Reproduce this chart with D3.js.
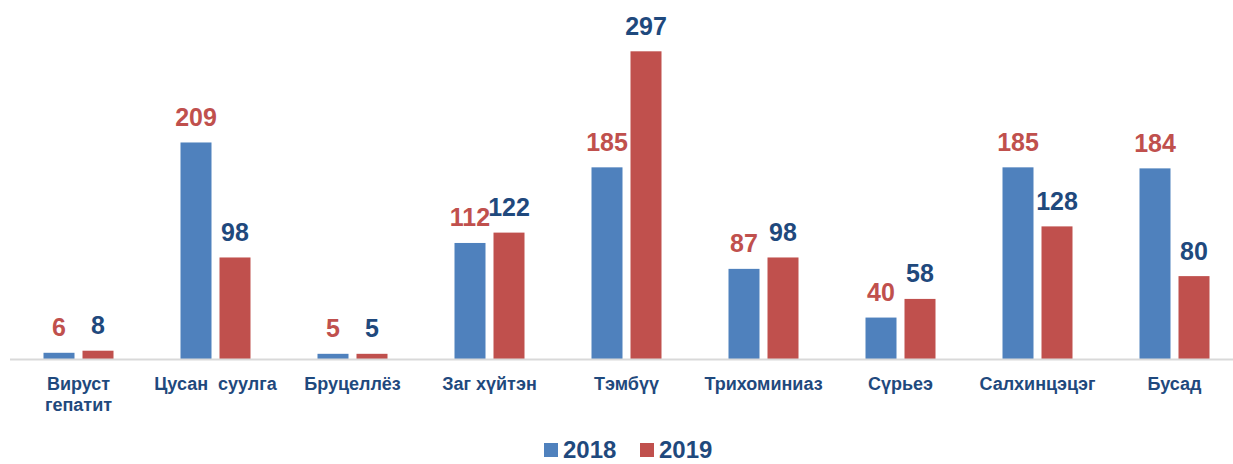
<!DOCTYPE html>
<html>
<head>
<meta charset="utf-8">
<script src="https://cdn.jsdelivr.net/npm/d3@7/dist/d3.min.js"></script>
<style>
  html, body { margin: 0; padding: 0; background: #ffffff; }
  svg { display: block; }
  text { font-family: "Liberation Sans", Arial, sans-serif; font-weight: bold; }
</style>
</head>
<body>
<svg id="chart" width="1233" height="464"></svg>
<script>
const categories = [
  ["Вируст", "гепатит"],
  ["Цусан  суулга"],
  ["Бруцеллёз"],
  ["Заг хүйтэн"],
  ["Тэмбүү"],
  ["Трихоминиаз"],
  ["Сүрьеэ"],
  ["Салхинцэцэг"],
  ["Бусад"]
];
const seriesNames = ["2018", "2019"];
const values2018 = [6, 209, 5, 112, 185, 87, 40, 185, 184];
const values2019 = [8, 98, 5, 122, 297, 98, 58, 128, 80];
const barColors = { "2018": "#4f81bd", "2019": "#c0504d" };
const labelColors = { "2018": "#c0504d", "2019": "#1f497d" };
const textColor = "#1f497d";

const svg = d3.select("#chart");
const catKeys = categories.map(c => c.join(" "));
const data = catKeys.map((k, i) => ({ key: k, lines: categories[i], "2018": values2018[i], "2019": values2019[i] }));

const x0 = d3.scaleBand().domain(catKeys).range([10, 1243]).paddingInner(0).paddingOuter(0);
const x1 = d3.scaleBand().domain(seriesNames).range([33.5, 103.5]).paddingInner(8 / 39).paddingOuter(0);
const y = d3.scaleLinear().domain([0, 300]).range([359, 48.2]);

// bars
const groups = svg.append("g").selectAll("g").data(data).join("g")
  .attr("transform", d => `translate(${x0(d.key)},0)`);

groups.selectAll("rect").data(d => seriesNames.map(s => ({ s, v: d[s] }))).join("rect")
  .attr("x", d => x1(d.s))
  .attr("width", x1.bandwidth())
  .attr("y", d => y(d.v))
  .attr("height", d => y(0) - y(d.v))
  .attr("fill", d => barColors[d.s]);

groups.selectAll("text.val").data(d => seriesNames.map(s => ({ s, v: d[s] }))).join("text")
  .attr("class", "val")
  .attr("x", d => x1(d.s) + x1.bandwidth() / 2)
  .attr("y", d => y(d.v) - 16.5)
  .attr("text-anchor", "middle")
  .attr("font-size", 25)
  .attr("fill", d => labelColors[d.s])
  .text(d => d.v);

// axis line
svg.append("line")
  .attr("x1", 10).attr("x2", 1233)
  .attr("y1", y(0) + 0.5).attr("y2", y(0) + 0.5)
  .attr("stroke", "#d9d9d9").attr("stroke-width", 2);

// category labels
const cat = svg.append("g").selectAll("text").data(data).join("text")
  .attr("x", d => x0(d.key) + x0.bandwidth() / 2)
  .attr("y", 390)
  .attr("text-anchor", "middle")
  .attr("font-size", 18)
  .attr("fill", textColor)
  .style("white-space", "pre");
cat.selectAll("tspan").data(d => d.lines).join("tspan")
  .attr("x", function() { return d3.select(this.parentNode).attr("x"); })
  .attr("dy", (d, i) => i === 0 ? 0 : 20.5)
  .text(d => d);

// legend
const legendX = { "2018": 544, "2019": 640 };
const leg = svg.append("g").selectAll("g").data(seriesNames).join("g")
  .attr("transform", d => `translate(${legendX[d]},0)`);
leg.append("rect").attr("x", 0).attr("y", 443).attr("width", 14).attr("height", 14)
  .attr("fill", d => barColors[d]);
leg.append("text").attr("x", 19).attr("y", 458)
  .attr("font-size", 24).attr("fill", textColor).text(d => d);
</script>
</body>
</html>
